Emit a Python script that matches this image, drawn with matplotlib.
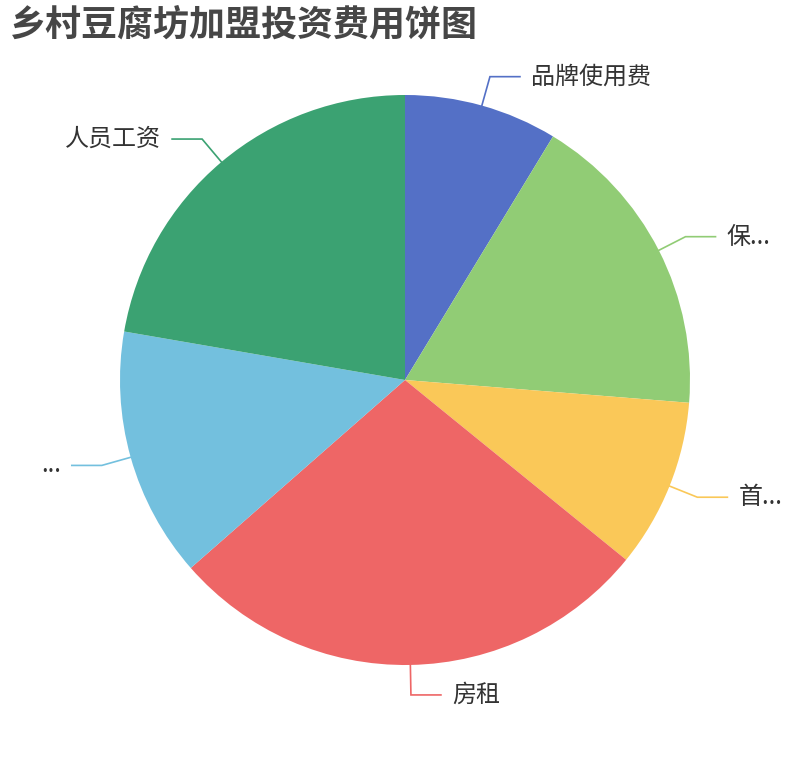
import numpy as np
import matplotlib
matplotlib.use("Agg")
import matplotlib.pyplot as plt

plt.rcParams['font.family'] = ['Noto Sans CJK SC', 'DejaVu Sans']

# --- Datos (porcentajes) ---
titulo = "乡村豆腐坊加盟投资费用饼图"
etiquetas = ["品牌使用费", "保...", "首...", "房租", "...", "人员工资"]
valores = [8.7, 17.6, 9.6, 27.7, 14.2, 22.3]
colores = ["#5470c6", "#91cc75", "#fac858", "#ee6666", "#73c0de", "#3ba272"]

# --- Figura en coordenadas de píxel ---
W, H = 810, 760
fig = plt.figure(figsize=(W / 100, H / 100), dpi=100)
ax = fig.add_axes([0, 0, 1, 1])

cx, cy, radio = 405, 380, 285
wedges, _ = ax.pie(valores, colors=colores, startangle=90, counterclock=False,
                   center=(cx, cy), radius=radio,
                   wedgeprops=dict(linewidth=0))

ax.set_xlim(0, W)
ax.set_ylim(0, H)
ax.set_aspect('equal')
ax.axis('off')

# Líneas guía y etiquetas
len1, len2 = 30, 30
for w, texto, col in zip(wedges, etiquetas, colores):
    ang = np.deg2rad((w.theta1 + w.theta2) / 2)
    dx, dy = np.cos(ang), np.sin(ang)
    x0, y0 = cx + radio * dx, cy + radio * dy
    x1, y1 = cx + (radio + len1) * dx, cy + (radio + len1) * dy
    lado = 1 if dx >= 0 else -1
    x2 = x1 + lado * len2
    ax.plot([x0, x1, x2], [y0, y1, y1], color=col, lw=1.2, solid_joinstyle='miter')
    ax.text(x2 + lado * 11, y1, texto, fontsize=17.3, color="#333333",
            ha='left' if lado > 0 else 'right', va='center')

fig.text(10 / W, 1 - 25 / H, titulo, fontsize=25.9, fontweight='bold',
         color="#464646", ha='left', va='center')

fig.savefig("out.png", dpi=100)
